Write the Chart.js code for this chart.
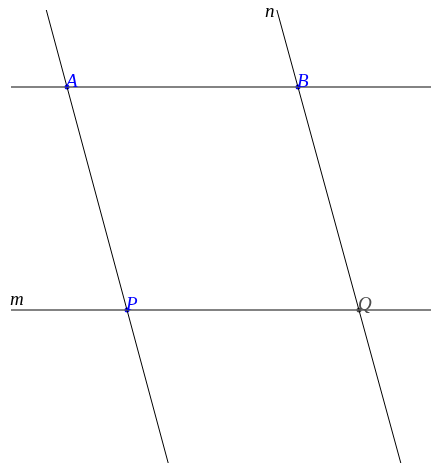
<!DOCTYPE html>
<html><head><meta charset="utf-8">
<script src="https://cdn.jsdelivr.net/npm/chart.js@4/dist/chart.umd.min.js"></script>
<style>html,body{margin:0;padding:0;background:#fff;overflow:hidden}canvas{display:block}</style>
</head><body>
<canvas id="c" width="431" height="463"></canvas>
<script>
// Figure coordinates (x to the right, y upward)
const pointNames = ["A", "B", "P", "Q"];
const pointX = [67, 298, 127, 359];
const pointY = [376, 376, 153, 153];
const pointColors = ["#0000ff", "#0000ff", "#0000ff", "#4d4d4d"];

// horizontal lines (through A,B and through P,Q = m)
const horizX = [11, 431];
const horizY = [376, 153];
// slanted lines: through A,P and through B,Q (= n), endpoints top / bottom
const slantTopX = [46.3, 276.9];
const slantTopY = [453, 453];
const slantBotX = [168.2, 400.8];
const slantBotY = [0, 0];

const lineLabelNames = ["m", "n"];
const lineLabelX = [10, 265];
const lineLabelY = [158, 446];

const datasets = [];
horizY.forEach(y => datasets.push({
  type: 'scatter', showLine: true, data: [{x: horizX[0], y}, {x: horizX[1], y}],
  borderColor: '#5a5a5a', borderWidth: 1.5, pointRadius: 0
}));
slantTopX.forEach((x, i) => datasets.push({
  type: 'scatter', showLine: true,
  data: [{x, y: slantTopY[i]}, {x: slantBotX[i], y: slantBotY[i]}],
  borderColor: '#000', borderWidth: 1, pointRadius: 0
}));
datasets.push({
  type: 'scatter', data: pointX.map((x, i) => ({x, y: pointY[i]})),
  pointRadius: 2.5, pointBackgroundColor: pointColors, pointBorderColor: pointColors,
  pointBorderWidth: 0
});

const labelPlugin = {
  id: 'labels',
  afterDatasetsDraw(chart) {
    const ctx = chart.ctx, xs = chart.scales.x, ys = chart.scales.y;
    ctx.save();
    ctx.font = 'italic 19px "Liberation Serif", "DejaVu Serif", serif';
    ctx.textAlign = 'left'; ctx.textBaseline = 'alphabetic';
    pointNames.forEach((n, i) => {
      ctx.fillStyle = pointColors[i];
      ctx.fillText(n, xs.getPixelForValue(pointX[i]) - 1, ys.getPixelForValue(pointY[i]) - 0.5);
    });
    ctx.fillStyle = '#000';
    lineLabelNames.forEach((n, i) => {
      ctx.fillText(n, xs.getPixelForValue(lineLabelX[i]), ys.getPixelForValue(lineLabelY[i]));
    });
    ctx.restore();
  }
};

new Chart(document.getElementById('c'), {
  type: 'scatter',
  data: { datasets },
  options: {
    responsive: false, animation: false, devicePixelRatio: 1,
    layout: { padding: 0, autoPadding: false },
    plugins: { legend: { display: false }, tooltip: { enabled: false } },
    scales: {
      x: { type: 'linear', min: 0, max: 431, display: false },
      y: { type: 'linear', min: 0, max: 463, display: false }
    }
  },
  plugins: [labelPlugin]
});
</script>
</body></html>
